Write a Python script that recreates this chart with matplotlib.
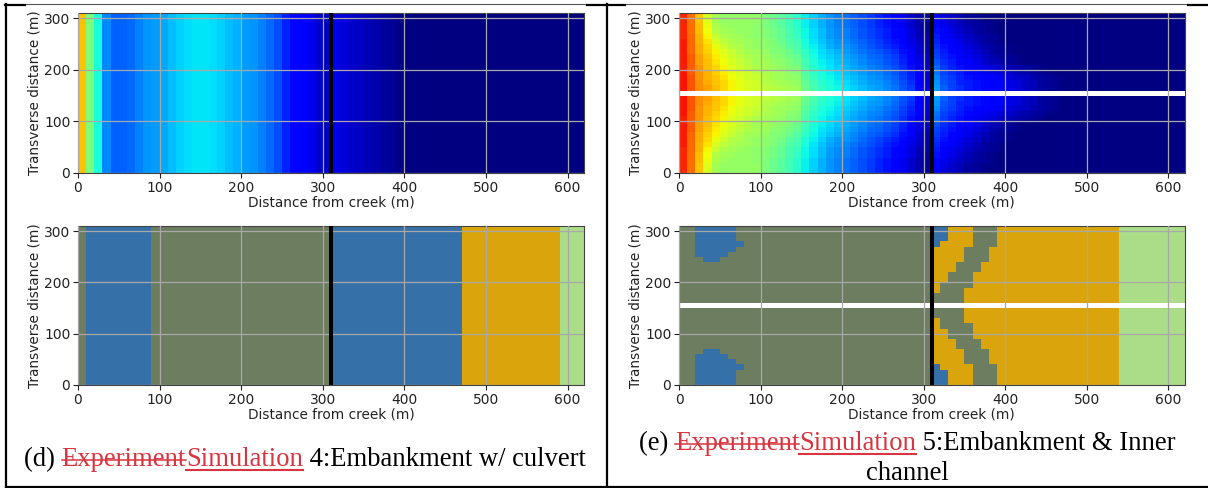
import numpy as np
import matplotlib
matplotlib.use("Agg")
import matplotlib.pyplot as plt
from matplotlib.colors import ListedColormap
from matplotlib.lines import Line2D

W, H = 1208, 488

x_ticks = [0, 100, 200, 300, 400, 500, 600]
y_ticks = [0, 100, 200, 300]
x_label = "Distance from creek (m)"
y_label = "Transverse distance (m)"

# depth panel (d), percent of colour range, one value per 10 m cell
depth_d = [70, 50, 38, 26, 22, 22, 23, 25, 27, 28, 29, 31, 33, 34, 35, 35, 34, 33, 31, 30,
           28, 27, 25, 23, 20, 16, 13, 12, 10, 7, 6, 9, 8, 7, 6, 5, 4, 3, 2, 1]

# depth panel (e), top row first, down to the row above the channel
depth_e = [
    [87, 79, 70, 61, 55, 53, 53, 53, 53, 53, 50, 48, 46, 43, 40, 36, 33, 30, 27, 25, 24, 22, 20, 18, 16, 14, 12, 10, 7, 4, 3, 11, 8, 7, 5, 3, 2, 1],
    [87, 79, 70, 62, 55, 53, 53, 53, 53, 53, 50, 48, 46, 43, 40, 36, 33, 30, 27, 25, 24, 22, 20, 18, 16, 14, 12, 10, 7, 4, 3, 12, 9, 7, 5, 3, 2, 1, 1],
    [87, 79, 71, 63, 56, 54, 53, 53, 53, 52, 50, 48, 46, 43, 40, 36, 33, 30, 27, 25, 24, 22, 20, 18, 16, 14, 12, 10, 7, 4, 3, 13, 10, 8, 6, 4, 3, 2, 1],
    [87, 79, 71, 64, 57, 55, 54, 53, 53, 52, 51, 49, 47, 44, 41, 37, 34, 31, 28, 26, 25, 23, 21, 19, 17, 15, 13, 11, 8, 5, 3, 14, 11, 9, 7, 5, 3, 2, 1],
    [87, 80, 72, 65, 59, 56, 55, 54, 53, 52, 51, 49, 47, 44, 42, 37, 34, 31, 28, 26, 25, 23, 21, 19, 17, 15, 13, 11, 8, 5, 4, 15, 12, 10, 8, 6, 4, 3, 2, 1],
    [88, 80, 72, 67, 61, 58, 56, 55, 54, 53, 52, 50, 48, 45, 43, 38, 35, 32, 29, 27, 26, 24, 22, 20, 18, 16, 14, 12, 9, 6, 4, 16, 13, 11, 9, 7, 5, 3, 2, 1],
    [88, 80, 73, 68, 63, 60, 57, 56, 54, 53, 52, 51, 49, 46, 44, 39, 36, 33, 30, 28, 27, 25, 23, 21, 19, 17, 15, 13, 10, 7, 5, 17, 14, 12, 10, 8, 6, 4, 3, 2, 1],
    [88, 80, 73, 69, 65, 62, 59, 57, 55, 54, 53, 51, 50, 48, 45, 41, 37, 34, 32, 30, 28, 26, 24, 22, 21, 19, 17, 14, 11, 7, 5, 18, 15, 13, 11, 9, 7, 5, 3, 2, 1],
    [88, 81, 74, 70, 66, 63, 60, 58, 56, 55, 54, 52, 51, 49, 47, 42, 38, 35, 33, 31, 29, 27, 25, 23, 22, 20, 18, 15, 12, 8, 6, 19, 16, 14, 12, 10, 8, 6, 4, 3, 2, 1],
    [88, 81, 74, 71, 67, 64, 61, 59, 57, 55, 55, 53, 52, 50, 48, 43, 39, 36, 34, 32, 30, 28, 26, 24, 23, 21, 19, 16, 13, 9, 6, 21, 17, 15, 13, 11, 9, 7, 5, 4, 2, 1],
    [88, 81, 75, 71, 68, 65, 62, 60, 58, 56, 55, 54, 53, 51, 50, 44, 40, 37, 35, 33, 31, 29, 27, 25, 24, 22, 20, 17, 14, 10, 7, 23, 18, 16, 14, 12, 10, 9, 8, 6, 5, 4, 3, 2, 1],
    [89, 81, 75, 72, 69, 66, 63, 61, 60, 58, 56, 55, 54, 52, 51, 45, 41, 38, 36, 34, 32, 30, 28, 26, 25, 23, 21, 18, 15, 11, 8, 24, 19, 17, 15, 13, 12, 10, 9, 8, 7, 5, 4, 3, 2, 1],
    [89, 82, 75, 72, 70, 67, 64, 62, 60, 59, 57, 55, 54, 53, 52, 46, 42, 39, 37, 35, 33, 31, 29, 27, 26, 24, 22, 19, 16, 12, 8, 26, 20, 18, 16, 14, 13, 12, 11, 10, 8, 7, 6, 4, 3, 2, 1],
    [89, 82, 76, 73, 70, 68, 65, 63, 61, 60, 57, 56, 55, 54, 53, 47, 43, 40, 38, 36, 34, 32, 30, 28, 27, 25, 23, 20, 17, 12, 9, 27, 21, 19, 16, 15, 14, 13, 12, 11, 9, 8, 6, 5, 3, 2, 1],
    [89, 82, 76, 74, 71, 68, 65, 63, 61, 60, 58, 57, 56, 55, 54, 48, 44, 41, 39, 37, 35, 33, 31, 29, 28, 26, 24, 21, 18, 13, 9, 28, 22, 19, 17, 15, 14, 13, 12, 11, 9, 8, 6, 5, 3, 2, 1],
]

# sediment classes: 0 blue, 1 grey-green, 2 gold, 3 light green
class_colors = ["#3670a8", "#6c7d60", "#daa50c", "#abdd88"]

# (class, number of 10 m cells) along x
classes_d = [(1, 1), (0, 8), (1, 22), (0, 16), (2, 12), (3, 3)]

# same for panel (e), top row first, down to the row above the channel
classes_e = [
    [(1, 2), (0, 5), (1, 24), (0, 2), (2, 3), (1, 3), (2, 15), (3, 8)],
    [(1, 2), (0, 5), (1, 24), (0, 2), (2, 3), (1, 3), (2, 15), (3, 8)],
    [(1, 2), (0, 5), (1, 24), (0, 2), (2, 3), (1, 3), (2, 15), (3, 8)],
    [(1, 2), (0, 6), (1, 23), (0, 1), (2, 4), (1, 3), (2, 15), (3, 8)],
    [(1, 2), (0, 5), (1, 24), (2, 4), (1, 3), (2, 16), (3, 8)],
    [(1, 2), (0, 4), (1, 25), (2, 4), (1, 3), (2, 16), (3, 8)],
    [(1, 3), (0, 2), (1, 26), (2, 4), (1, 3), (2, 16), (3, 8)],
    [(1, 31), (2, 3), (1, 3), (2, 17), (3, 8)],
    [(1, 31), (2, 3), (1, 3), (2, 17), (3, 8)],
    [(1, 31), (2, 2), (1, 3), (2, 18), (3, 8)],
    [(1, 31), (2, 2), (1, 3), (2, 18), (3, 8)],
    [(1, 31), (2, 1), (1, 4), (2, 18), (3, 8)],
    [(1, 31), (2, 1), (1, 3), (2, 19), (3, 8)],
    [(1, 35), (2, 19), (3, 8)],
    [(1, 35), (2, 19), (3, 8)],
]

caption_d = [("(d) ", "k", ""), ("Experiment", "#d9343f", "strike"), ("Simulation", "#d9343f", "under"),
             (" 4:Embankment w/ culvert", "k", "")]
caption_e = [("(e) ", "k", ""), ("Experiment", "#d9343f", "strike"), ("Simulation", "#d9343f", "under"),
             (" 5:Embankment & Inner", "k", "")]
caption_e2 = "channel"


def mirror(rows):
    # rows above channel -> full 31 rows, bottom first, channel row repeats the one next to it
    rows = np.array(rows, dtype=float)
    return np.vstack([rows, rows[-1:], rows[::-1]])[::-1]


def pad_row(row):
    return np.pad(np.array(row, dtype=float), (0, 62 - len(row)))


def unroll(runs):
    return np.concatenate([np.full(n, c) for c, n in runs])


def make_ax(fig, left, top, right, bottom):
    ax = fig.add_axes([left/W, 1-bottom/H, (right-left)/W, (bottom-top)/H])
    return ax


def draw_panel(ax, grid, cmap, vmax, channel=False):
    x_edges = np.arange(0, 630, 10)
    y_edges = np.arange(0, 320, 10)
    ax.pcolormesh(x_edges, y_edges, grid, cmap=cmap, vmin=0, vmax=vmax, zorder=1)
    if channel:
        ax.plot([0, 620], [155.5, 155.5], color="white", lw=3.6, solid_capstyle="butt", zorder=2)
    ax.plot([310, 310], [0, 310], color="black", lw=2.9, solid_capstyle="butt", zorder=3)
    ax.set_xlim(0, 620)
    ax.set_ylim(0, 310)
    ax.set_xticks(x_ticks)
    ax.set_yticks(y_ticks)
    ax.tick_params(labelsize=10, length=3.5, width=0.8, pad=2, colors="#222222")
    ax.set_axisbelow(False)
    ax.grid(True, color="#a8a8a8", lw=0.9)
    ax.set_xlabel(x_label, fontsize=9.8, labelpad=0.5, color="#222222")
    ax.set_ylabel(y_label, fontsize=9.8, labelpad=1.5, color="#222222")
    for s in ax.spines.values():
        s.set_edgecolor("#444444")


def caption(fig, over, runs, x_start, baseline, size):
    rend = fig.canvas.get_renderer()
    x = x_start
    for txt, col, deco in runs:
        over.text(x, baseline, txt, family="Liberation Serif", fontsize=size, color=col,
                  va="baseline", ha="left")
        # trailing/leading spaces are counted through a measuring pair of dots
        probe = over.text(0, 0, "." + txt + ".", family="Liberation Serif", fontsize=size)
        dots = over.text(0, 0, "..", family="Liberation Serif", fontsize=size)
        w = probe.get_window_extent(rend).width - dots.get_window_extent(rend).width
        probe.remove()
        dots.remove()
        if deco == "strike":
            over.add_line(Line2D([x, x+w], [baseline-5.7, baseline-5.7], color=col, lw=1.1))
        if deco == "under":
            over.add_line(Line2D([x, x+w], [baseline+3.5, baseline+3.5], color=col, lw=1.5))
        x += w


grid_a = np.tile(pad_row(depth_d), (31, 1)) / 100
grid_b = mirror([pad_row(r) for r in depth_e]) / 100
grid_c = np.tile(unroll(classes_d), (31, 1))
grid_d = mirror([unroll(r) for r in classes_e])
class_cmap = ListedColormap(class_colors)

fig = plt.figure(figsize=(W/100, H/100), dpi=100)

ax1 = make_ax(fig, 78, 13, 584, 173)
draw_panel(ax1, grid_a, "jet", 1)
ax2 = make_ax(fig, 679, 13, 1184.5, 173)
draw_panel(ax2, grid_b, "jet", 1, channel=True)
ax3 = make_ax(fig, 78, 226, 584, 385)
draw_panel(ax3, grid_c, class_cmap, 3)
ax4 = make_ax(fig, 679, 226, 1184.5, 385)
draw_panel(ax4, grid_d, class_cmap, 3, channel=True)

# overlay in pixel coordinates for the table rules and captions
over = fig.add_axes([0, 0, 1, 1], facecolor="none", zorder=10)
over.set_xlim(0, W)
over.set_ylim(H, 0)
over.axis("off")

over.plot([6, 6], [4, 488], color="k", lw=1.6)
over.plot([606.5, 606.5], [4, 488], color="k", lw=1.6)
over.plot([6, W], [487, 487], color="k", lw=1.6)
over.plot([25, 587], [4, 4], color="#555555", lw=0.8)
over.plot([625, 1188], [4, 4], color="#555555", lw=0.8)
over.plot([5, 25], [5, 5], color="k", lw=1.6)
over.plot([587, 625], [5, 5], color="k", lw=1.6)
over.plot([1188, W], [5, 5], color="k", lw=1.6)

fig.canvas.draw()
caption(fig, over, caption_d, 24, 466, 19.2)
caption(fig, over, caption_e, 639, 450, 19.2)
over.text(907, 480, caption_e2, family="Liberation Serif", fontsize=19.2, color="k", ha="center", va="baseline")

fig.savefig("out.png", dpi=100)
